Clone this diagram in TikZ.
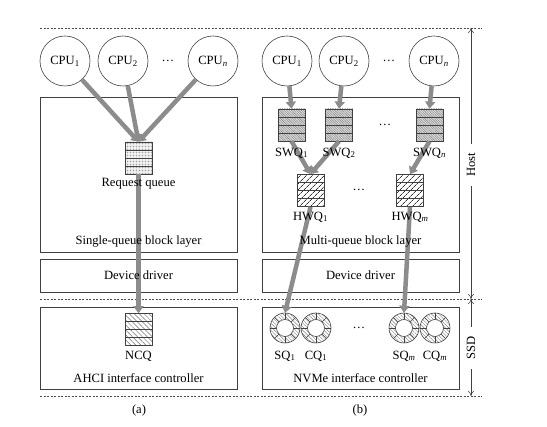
\documentclass[tikz,border=0pt]{standalone}
\usepackage{fontspec}
\setmainfont{Liberation Serif}
\usetikzlibrary{positioning,patterns.meta,arrows.meta}

\begin{document}
\begin{tikzpicture}[x=1pt,y=-1pt,
            font=\fontsize{12.6}{15}\selectfont,
            cpu node/.style={circle,draw=black!75,line width=0.6pt,minimum size=50pt,inner sep=0pt},
            layer box/.style={rectangle,draw=black!75,line width=0.6pt,minimum width=197pt,inner sep=0pt},
            queue node/.style={rectangle,draw=black!75,line width=0.6pt,minimum width=27pt,minimum height=32pt,inner sep=0pt,
                path picture={\foreach \k in {-8pt,0pt,8pt}
                    \draw[black!75,line width=0.6pt] ([yshift=\k]path picture bounding box.west) -- ([yshift=\k]path picture bounding box.east);}},
            ring node/.style={circle,draw=black!75,line width=0.6pt,minimum size=30pt,inner sep=0pt,
                pattern={Lines[angle=-45,distance=2.5pt,line width=0.4pt]},pattern color=black!50,
                path picture={\foreach \a in {0,45,...,315}
                    \draw[black!75,line width=0.5pt] (path picture bounding box.center) ++(\a:8.5pt) -- ++(\a:7pt);
                    \draw[black!75,line width=0.6pt,fill=white] (path picture bounding box.center) circle (8.5pt);}},
            swq fill/.style={preaction={fill=black!15},pattern={Lines[angle=-45,distance=1.7pt,line width=0.4pt]},pattern color=black!50},
            hwq fill/.style={pattern={Lines[angle=45,distance=4pt,line width=0.8pt]},pattern color=black!80},
            flow/.style={draw=black!45,line width=4.5pt,-{Triangle[length=7pt,width=10pt]}},
            sep line/.style={black!70,line width=0.5pt,dash pattern=on 2pt off 1.5pt},
            dim/.style={black!75,line width=0.5pt,-{To[length=5pt,width=6pt]}}]

        \useasboundingbox (0,0) rectangle (547,427);

        % Separators
        \draw[sep line] (40,28) -- (482,28);
        \draw[sep line] (40,299) -- (482,299);
        \draw[sep line] (40,396) -- (482,396);

        % (a) single queue
        \node[layer box,minimum height=155pt] (alayer) at (138.5,174.5) {};
        \node[layer box,minimum height=33pt] (adriver) at (138.5,275.5) {};
        \node[layer box,minimum height=82pt] (actrl) at (138.5,348) {};

        \node[cpu node] (acpu1) at (65,61) {CPU\textsubscript{1}};
        \node[cpu node] (acpu2) at (123,61) {CPU\textsubscript{2}};
        \node[cpu node] (acpun) at (213,61) {CPU\textsubscript{\textit{n}}};
        \node (adots) at (168,61) {\dots};

        \node[queue node,pattern={Dots[distance=1.5pt,radius=0.35pt]},pattern color=black!55] (rq) at (138.5,158) {};
        \node[queue node,pattern={Lines[angle=-45,distance=3.5pt,line width=0.5pt]},pattern color=black!55] (ncq) at (138.5,329.5) {};

        % (b) multi queue
        \node[layer box,minimum height=155pt] (blayer) at (360.5,174.5) {};
        \node[layer box,minimum height=33pt] (bdriver) at (360.5,275.5) {};
        \node[layer box,minimum height=82pt] (bctrl) at (360.5,348) {};

        \node[cpu node] (bcpu1) at (287,61) {CPU\textsubscript{1}};
        \node[cpu node] (bcpu2) at (344,61) {CPU\textsubscript{2}};
        \node[cpu node] (bcpun) at (434,61) {CPU\textsubscript{\textit{n}}};
        \node (bdots) at (389,61) {\dots};

        \node[queue node,swq fill] (swq1) at (291.5,125) {};
        \node[queue node,swq fill] (swq2) at (339,125) {};
        \node[queue node,swq fill] (swqn) at (429.5,125) {};
        \node (swqdots) at (385,125) {\dots};

        \node[queue node,hwq fill] (hwq1) at (310.5,190.5) {};
        \node[queue node,hwq fill] (hwqm) at (410,190.5) {};
        \node (hwqdots) at (359,190) {\dots};

        \node[ring node] (sq1) at (285,328) {};
        \node[ring node] (cq1) at (316,328) {};
        \node[ring node] (sqm) at (404,328) {};
        \node[ring node] (cqm) at (435,328) {};
        \node (ringdots) at (359,328) {\dots};

        % Flows
        \draw[flow] (acpu1) -- (rq.north);
        \draw[flow] (acpu2) -- (rq.north);
        \draw[flow] (acpun) -- (rq.north);
        \draw[flow] (rq.south) -- (ncq.north);

        \draw[flow] (bcpu1) -- (swq1.north);
        \draw[flow] (bcpu2) -- (swq2.north);
        \draw[flow] (bcpun) -- (swqn.north);
        \draw[flow] (swq1.south) -- (hwq1.north);
        \draw[flow] (swq2.south) -- (hwq1.north);
        \draw[flow] (swqn.south) -- (hwqm.north);
        \draw[flow] (hwq1.south) -- (sq1.north);
        \draw[flow] (hwqm.south) -- (sqm.north);

        % Labels
        \node (rqlbl) at (138.5,184) {Request queue};
        \node at (138.5,241) {Single-queue block layer};
        \node at (adriver) {Device driver};
        \node (ncqlbl) at (138.5,356) {NCQ};
        \node at (138.5,378) {AHCI interface controller};
        \node at (139,410) {(a)};

        \node at (291.5,153) {SWQ\textsubscript{1}};
        \node at (339,153) {SWQ\textsubscript{2}};
        \node at (429.5,153) {SWQ\textsubscript{\textit{n}}};
        \node at (310.5,217) {HWQ\textsubscript{1}};
        \node at (410,217) {HWQ\textsubscript{\textit{m}}};
        \node at (360.5,241) {Multi-queue block layer};
        \node at (bdriver) {Device driver};
        \node at (285,356) {SQ\textsubscript{1}};
        \node at (316,356) {CQ\textsubscript{1}};
        \node at (404,356) {SQ\textsubscript{\textit{m}}};
        \node at (435,356) {CQ\textsubscript{\textit{m}}};
        \node at (360.5,378) {NVMe interface controller};
        \node at (360,410) {(b)};

        % Host / SSD extent
        \coordinate (htop) at (471,28);
        \coordinate (hmid) at (471,299);
        \coordinate (sbot) at (471,396);
        \node[rotate=90,inner xsep=9pt] (hostlbl) at (471,165) {Host};
        \node[rotate=90,inner xsep=9pt] (ssdlbl) at (471,348) {SSD};
        \draw[dim] (hostlbl.east) -- (htop);
        \draw[dim] (hostlbl.west) -- (hmid);
        \draw[dim] (ssdlbl.east) -- (hmid);
        \draw[dim] (ssdlbl.west) -- (sbot);

\end{tikzpicture}
\end{document}
